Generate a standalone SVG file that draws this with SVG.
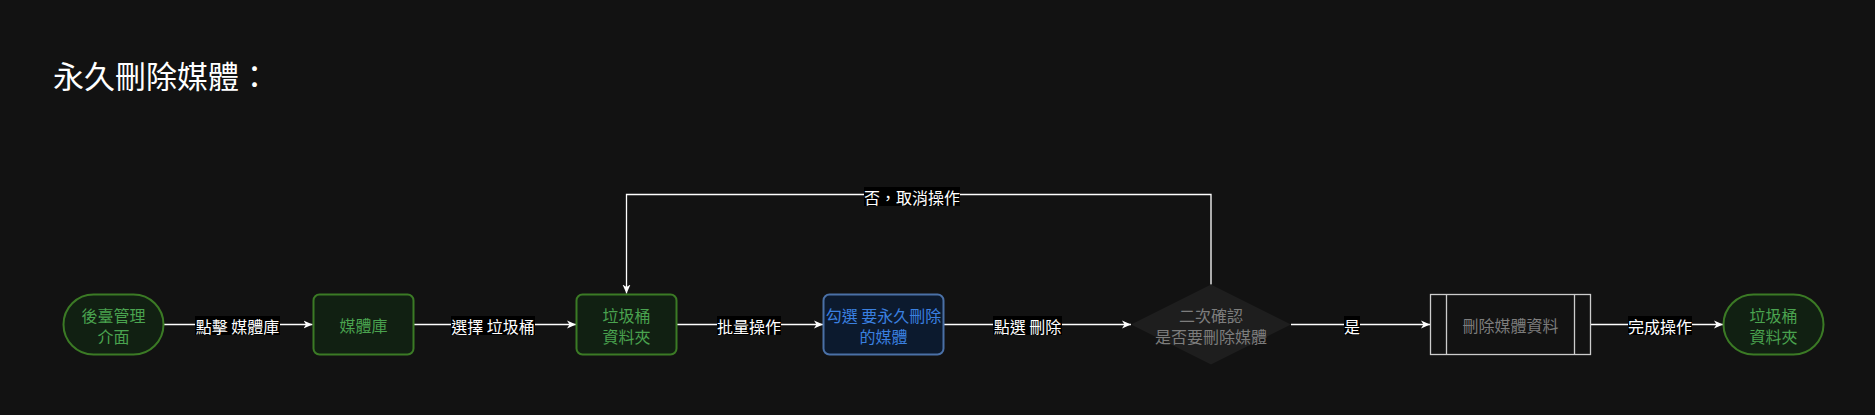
<svg xmlns="http://www.w3.org/2000/svg" width="1875" height="415" viewBox="0 0 1875 415">
<defs>
<marker id="arr" markerUnits="userSpaceOnUse" markerWidth="10" markerHeight="10" refX="9" refY="5" orient="auto">
<path d="M0,1 L9,5 L0,9 L2.5,5 Z" fill="#ffffff"/>
</marker>
<style>
text{font-family:"Noto Sans CJK TC","Noto Sans CJK SC",sans-serif;font-size:16px;text-anchor:middle;dominant-baseline:central}
.title{font-size:31px;fill:#ffffff;text-anchor:start;dominant-baseline:alphabetic}
.green rect{fill:#112012;stroke:#3b7a25;stroke-width:2}
.green text{fill:#4aa34f}
.blue rect{fill:#0c1a2e;stroke:#4a70a6;stroke-width:2}
.blue text{fill:#3a80e0}
.gray text{fill:#7d7d7d}
.edge{fill:none;stroke:#ffffff;stroke-width:1.3;marker-end:url(#arr)}
.lbg{fill:#000000}
.lbl{fill:#ffffff}
</style>
</defs>
<rect width="1875" height="415" fill="#121212"/>
<text class="title" x="53" y="88">永久刪除媒體：</text>

<g id="connectors">
<path class="edge" d="M164,324.5 L312.5,324.5"/>
<path class="edge" d="M414,324.5 L576,324.5"/>
<path class="edge" d="M677,324.5 L823,324.5"/>
<path class="edge" d="M944,324.5 L1131,324.5"/>
<path class="edge" d="M1291,324.5 L1430,324.5"/>
<path class="edge" d="M1591,324.5 L1723,324.5"/>
<path class="edge" d="M1211,284.5 L1211,194.5 L626.5,194.5 L626.5,293.5"/>
<rect class="lbg" x="195" y="316" width="85" height="19"/>
<text class="lbl" x="237.5" y="325.5">點擊 媒體庫</text>
<rect class="lbg" x="451" y="316" width="84" height="19"/>
<text class="lbl" x="493" y="325.5">選擇 垃圾桶</text>
<rect class="lbg" x="717" y="316" width="64" height="19"/>
<text class="lbl" x="749" y="325.5">批量操作</text>
<rect class="lbg" x="993" y="316" width="69" height="19"/>
<text class="lbl" x="1027.5" y="325.5">點選 刪除</text>
<rect class="lbg" x="1344" y="316" width="16" height="19"/>
<text class="lbl" x="1352" y="325.5">是</text>
<rect class="lbg" x="1628" y="316" width="64" height="19"/>
<text class="lbl" x="1660" y="325.5">完成操作</text>
<rect class="lbg" x="864" y="187" width="96" height="19"/>
<text class="lbl" x="912" y="196.5">否，取消操作</text>
</g>

<g id="start" class="green">
<rect x="63.5" y="294.5" width="100" height="60" rx="30" ry="30"/>
<text x="113.5" y="314.5">後臺管理</text>
<text x="113.5" y="335.5">介面</text>
</g>

<g id="media-library" class="green">
<rect x="313.5" y="294.5" width="100" height="60" rx="6" ry="6"/>
<text x="363.5" y="324.5">媒體庫</text>
</g>

<g id="trash-folder" class="green">
<rect x="576.5" y="294.5" width="100" height="60" rx="6" ry="6"/>
<text x="626.5" y="314.5">垃圾桶</text>
<text x="626.5" y="335.5">資料夾</text>
</g>

<g id="select-media" class="blue">
<rect x="823.5" y="294.5" width="120" height="60" rx="6" ry="6"/>
<text x="883.5" y="314.5">勾選 要永久刪除</text>
<text x="883.5" y="335.5">的媒體</text>
</g>

<g id="confirm" class="gray">
<polygon points="1131,324.5 1211,284.5 1291,324.5 1211,364.5" fill="#1e1e1e"/>
<text x="1211" y="314.5">二次確認</text>
<text x="1211" y="335.5">是否要刪除媒體</text>
</g>

<g id="delete-data" class="gray">
<rect x="1430.5" y="294.5" width="160" height="60" fill="none" stroke="#cccccc" stroke-width="1.3"/>
<line x1="1446.5" y1="294.5" x2="1446.5" y2="354.5" stroke="#cccccc" stroke-width="1.3"/>
<line x1="1574.5" y1="294.5" x2="1574.5" y2="354.5" stroke="#cccccc" stroke-width="1.3"/>
<text x="1510.5" y="324.5">刪除媒體資料</text>
</g>

<g id="end" class="green">
<rect x="1723.5" y="294.5" width="100" height="60" rx="30" ry="30"/>
<text x="1773.5" y="314.5">垃圾桶</text>
<text x="1773.5" y="335.5">資料夾</text>
</g>
</svg>
